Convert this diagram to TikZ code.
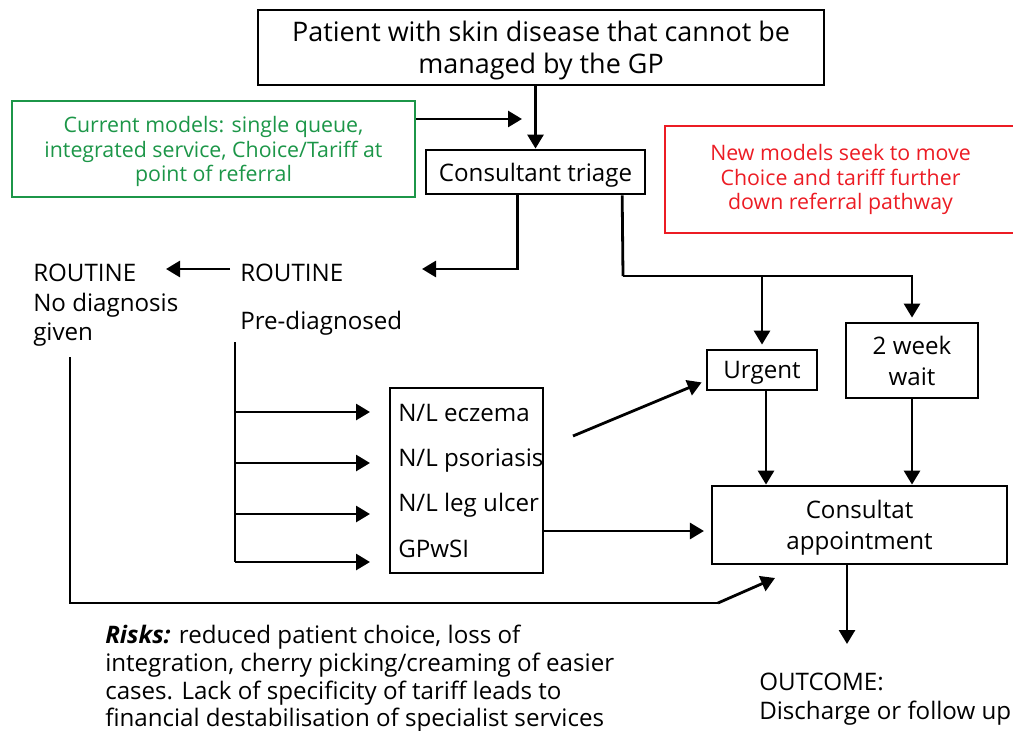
\documentclass[tikz,border=0pt]{standalone}
\usepackage{fontspec}
\setmainfont{Open Sans}
\usetikzlibrary{arrows.meta,calc}
\definecolor{grn}{RGB}{28,150,72}
\definecolor{rd}{RGB}{236,28,36}
\newcommand\fT{\fontsize{20.2}{24}\selectfont}
\newcommand\fB{\fontsize{18.1}{23.25}\selectfont}
\newcommand\fS{\fontsize{16}{18.4}\selectfont}
\begin{document}
\begin{tikzpicture}[x=0.75pt,y=-0.75pt,
  box/.style={draw,line width=2.1pt,inner sep=0pt,align=center},
  txt/.style={inner sep=0pt,anchor=base west,font=\fB},
  arr/.style={line width=2.1pt,-{Triangle[length=10.5pt,width=12pt]}},
  ln/.style={line width=2.1pt}]
\useasboundingbox (0,0) rectangle (1013,731);
% boxes
\node[box,minimum width=424.5pt,minimum height=56.25pt,font=\fT] (top) at (541,47.5)
  {\rule{0pt}{20.5pt}Patient with skin disease that cannot be\\managed by the GP};
\node[box,draw=grn,text=grn,minimum width=302.25pt,minimum height=72pt,font=\fS,text depth=-0.7pt] (green) at (213.5,149)
  {Current models: single queue,\\integrated service, Choice/Tariff at\\point of referral};
\node[box,minimum width=164.25pt,minimum height=33pt,font=\fB,text depth=0pt] (triage) at (535.5,172) {Consultant triage};
\node[box,draw=rd,text=rd,minimum width=263.25pt,minimum height=80.25pt,font=\fS] (red) at (840.5,179.5)
  {New models seek to move\\Choice and tariff further\\down referral pathway};
\node[box,minimum width=82.5pt,minimum height=30pt,font=\fB,text depth=0pt] (urgent) at (762,370) {Urgent};
\node[box,minimum width=99pt,minimum height=56.25pt,font=\fB,text depth=-2.2pt] (wk) at (912,360.5) {2 week\\wait};
\node[box,minimum width=114.75pt,minimum height=138.75pt] (list) at (466.5,480.5) {};
\node[box,minimum width=221.25pt,minimum height=58.5pt,font=\fB,text depth=0pt] (appt) at (859.5,525) {Consultat\\appointment};
% list items
\node[txt] (l1) at (398,421) {N/L eczema};
\node[txt] (l2) at (398,466) {N/L psoriasis};
\node[txt] (l3) at (398,511) {N/L leg ulcer};
\node[txt] (l4) at (398,557) {GPwSI};
% routine texts
\node[txt] (r1) at (33,281) {ROUTINE};
\node[txt] (r2) at (33,311) {No diagnosis};
\node[txt] (r3) at (33,340) {given};
\node[txt] (rt) at (240,281) {ROUTINE};
\node[txt] (pre) at (240,329) {Pre-diagnosed};
% outcome
\node[txt] (o1) at (759,690) {OUTCOME:};
\node[txt] (o2) at (759,719) {Discharge or follow up};
% risks
\node[txt] (k1) at (105,643) {\textbf{\textit{Risks:}} reduced patient choice, loss of};
\node[txt] (k2) at (105,671) {integration, cherry picking/creaming of easier};
\node[txt] (k3) at (105,699) {cases. Lack of specificity of tariff leads to};
\node[txt] (k4) at (105,726) {financial destabilisation of specialist services};
% coordinates
\coordinate (gend) at (522,119);
\coordinate (rtip) at (422,269);
\coordinate (lft) at (166,269);
\coordinate (v1) at (235,342);
\coordinate (b1) at (70,357);
\coordinate (b2) at (718,603);
\coordinate (btip) at (775,578);
\coordinate (j1) at (623,276);
% connectors
\draw[arr] (triage.north |- top.south) -- (triage.north);
\draw[arr] (green.east |- gend) -- (gend);
\draw[arr] ([xshift=-13.5pt]triage.south) |- (rtip);
\draw[arr] ([xshift=-7.5pt]rt.west |- rtip) -- (lft);
\draw[ln] ([xshift=65pt]triage.south) -- (j1);
\draw[arr] (j1) -| ([yshift=3pt]wk.north);
\draw[arr] (urgent.north |- j1) -- ([yshift=3pt]urgent.north);
\draw[ln] (v1) -- (235,562);
\foreach \y in {412,463,514,562} \draw[arr] (235,\y) -- (370,\y);
\draw[arr] (573,436) -- ([shift={(-4,-9)}]urgent.south west);
\draw[arr] (list.east |- 0,531) -- ([xshift=-5pt]appt.west |- 0,531);
\draw[arr] ([xshift=3pt]urgent.south) -- ([xshift=3pt]urgent.south |- appt.north);
\draw[arr] (wk.south) -- (wk.south |- appt.north);
\draw[ln] (b1) |- (b2);
\draw[arr] (b2) -- (btip);
\draw[arr] (847,564) -- (847,644);
\end{tikzpicture}
\end{document}
